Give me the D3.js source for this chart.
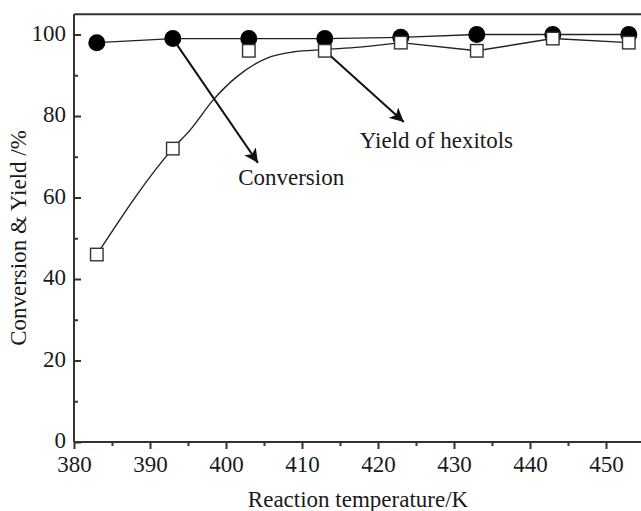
<!DOCTYPE html>
<html>
<head>
<meta charset="utf-8">
<script src="https://cdn.jsdelivr.net/npm/d3@7"></script>
<style>
  html, body { margin: 0; padding: 0; background: #ffffff; }
  svg { display: block; }
</style>
</head>
<body>
<div id="chart"></div>
<script>
// Conversion & yield vs reaction temperature

const temperatures = [383, 393, 403, 413, 423, 433, 443, 453];
const conversion = [98, 99, 99, 99, 99.3, 100, 100, 100];
const yieldHexitols = [46, 72, 96, 96, 98, 96, 99, 98];

// fitted curve drawn through the yield points
const yieldFitT = [383, 393, 395.3, 398.3, 401.4, 405.4, 408.8, 413, 417.6, 423];
const yieldFitV = [46, 72, 76.6, 83.9, 89.6, 94.2, 95.7, 96.3, 96.9, 98];
// straight segments after the fitted part
const yieldLineT = [423, 433, 443, 453];
const yieldLineV = [98, 96, 99, 98];

const xTicks = [380, 390, 400, 410, 420, 430, 440, 450];
const xMinorTicks = [385, 395, 405, 415, 425, 435, 445];
const yTicks = [0, 20, 40, 60, 80, 100];
const yMinorTicks = [10, 30, 50, 70, 90];

(function () {
    const W = 641, H = 511;
    const margin = { top: 14, left: 74, bottom: 442 };
    const fontFamily = "'Liberation Serif', 'Times New Roman', serif";
    const fontSize = 23;
    const axisColor = "#333";
    const textColor = "#1a1a1a";

    const x = d3.scaleLinear().domain([380, 455]).range([margin.left, margin.left + 75 * 7.6]);
    const y = d3.scaleLinear().domain([0, 105]).range([margin.bottom, margin.bottom - 105 * 4.075]);

    const svg = d3.select("#chart").append("svg")
        .attr("width", W)
        .attr("height", H);

    svg.append("defs").append("marker")
        .attr("id", "arrow")
        .attr("viewBox", "0 0 10 10")
        .attr("refX", 10)
        .attr("refY", 5)
        .attr("markerWidth", 7)
        .attr("markerHeight", 7)
        .attr("markerUnits", "strokeWidth")
        .attr("orient", "auto")
        .append("path")
        .attr("d", "M0,0 L10,5 L0,10 L2.5,5 Z")
        .attr("fill", "#111");

    // ---------- axes ----------
    const xAxis = svg.append("g")
        .attr("transform", `translate(0, ${margin.bottom})`)
        .call(d3.axisBottom(x).tickValues(xTicks).tickSize(7).tickSizeOuter(0));
    xAxis.append("g")
        .call(d3.axisBottom(x).tickValues(xMinorTicks).tickSize(4).tickFormat(""));

    const yAxis = svg.append("g")
        .attr("transform", `translate(${margin.left}, 0)`)
        .call(d3.axisRight(y).tickValues(yTicks).tickSize(7).tickSizeOuter(0).tickFormat(""));
    yAxis.append("g")
        .call(d3.axisRight(y).tickValues(yMinorTicks).tickSize(4).tickFormat(""));

    svg.selectAll(".domain").remove();
    svg.selectAll(".tick line")
        .attr("stroke", axisColor)
        .attr("stroke-width", 2);

    xAxis.selectAll(".tick text")
        .attr("y", 14)
        .attr("font-family", fontFamily)
        .attr("font-size", fontSize)
        .attr("fill", textColor);

    // y tick labels (drawn on the left side)
    svg.append("g").selectAll("text")
        .data(yTicks)
        .enter()
        .append("text")
        .attr("x", margin.left - 8)
        .attr("y", d => y(d) + 6)
        .attr("text-anchor", "end")
        .attr("font-family", fontFamily)
        .attr("font-size", fontSize)
        .attr("fill", textColor)
        .text(d => d);

    // frame: left, bottom and top lines (right side is cut off)
    svg.append("line")
        .attr("x1", margin.left).attr("x2", margin.left)
        .attr("y1", y(105)).attr("y2", margin.bottom)
        .attr("stroke", axisColor).attr("stroke-width", 2);
    svg.append("line")
        .attr("x1", margin.left).attr("x2", W)
        .attr("y1", margin.bottom).attr("y2", margin.bottom)
        .attr("stroke", axisColor).attr("stroke-width", 2);
    svg.append("line")
        .attr("x1", margin.left).attr("x2", W)
        .attr("y1", y(105)).attr("y2", y(105))
        .attr("stroke", axisColor).attr("stroke-width", 2);

    // axis titles
    svg.append("text")
        .attr("x", 358)
        .attr("y", 507)
        .attr("text-anchor", "middle")
        .attr("font-family", fontFamily)
        .attr("font-size", fontSize)
        .attr("fill", textColor)
        .text("Reaction temperature/K");

    svg.append("text")
        .attr("transform", "translate(26, 238) rotate(-90)")
        .attr("text-anchor", "middle")
        .attr("font-family", fontFamily)
        .attr("font-size", fontSize)
        .attr("fill", textColor)
        .text("Conversion & Yield /%");

    // ---------- lines ----------
    const line = d3.line()
        .x(d => x(d[0]))
        .y(d => y(d[1]));

    svg.append("path")
        .datum(d3.zip(temperatures, conversion))
        .attr("d", line)
        .attr("fill", "none")
        .attr("stroke", "#222")
        .attr("stroke-width", 1.4);

    svg.append("path")
        .datum(d3.zip(yieldFitT, yieldFitV))
        .attr("d", d3.line().x(d => x(d[0])).y(d => y(d[1])).curve(d3.curveMonotoneX))
        .attr("fill", "none")
        .attr("stroke", "#222")
        .attr("stroke-width", 1.4);

    svg.append("path")
        .datum(d3.zip(yieldLineT, yieldLineV))
        .attr("d", line)
        .attr("fill", "none")
        .attr("stroke", "#222")
        .attr("stroke-width", 1.4);

    // ---------- annotation arrows ----------
    const arrows = [
        { from: [393, 99], to: [404.2, 68.5] },
        { from: [413, 96], to: [423.4, 78.5] }
    ];
    svg.append("g").selectAll("line")
        .data(arrows)
        .enter()
        .append("line")
        .attr("x1", d => x(d.from[0]))
        .attr("y1", d => y(d.from[1]))
        .attr("x2", d => x(d.to[0]))
        .attr("y2", d => y(d.to[1]))
        .attr("stroke", "#111")
        .attr("stroke-width", 2)
        .attr("marker-end", "url(#arrow)");

    // ---------- markers ----------
    svg.append("g").selectAll("circle")
        .data(d3.zip(temperatures, conversion))
        .enter()
        .append("circle")
        .attr("cx", d => x(d[0]))
        .attr("cy", d => y(d[1]))
        .attr("r", 8.5)
        .attr("fill", "#000");

    const sq = 12.5;
    svg.append("g").selectAll("rect")
        .data(d3.zip(temperatures, yieldHexitols))
        .enter()
        .append("rect")
        .attr("x", d => x(d[0]) - sq / 2)
        .attr("y", d => y(d[1]) - sq / 2)
        .attr("width", sq)
        .attr("height", sq)
        .attr("fill", "#fff")
        .attr("stroke", "#333")
        .attr("stroke-width", 1.4);

    // ---------- labels ----------
    const labels = [
        { text: "Conversion", at: [401.6, 63] },
        { text: "Yield of hexitols", at: [417.6, 72.2] }
    ];
    svg.append("g").selectAll("text")
        .data(labels)
        .enter()
        .append("text")
        .attr("x", d => x(d.at[0]))
        .attr("y", d => y(d.at[1]))
        .attr("font-family", fontFamily)
        .attr("font-size", fontSize)
        .attr("fill", textColor)
        .text(d => d.text);
})();
</script>
</body>
</html>
